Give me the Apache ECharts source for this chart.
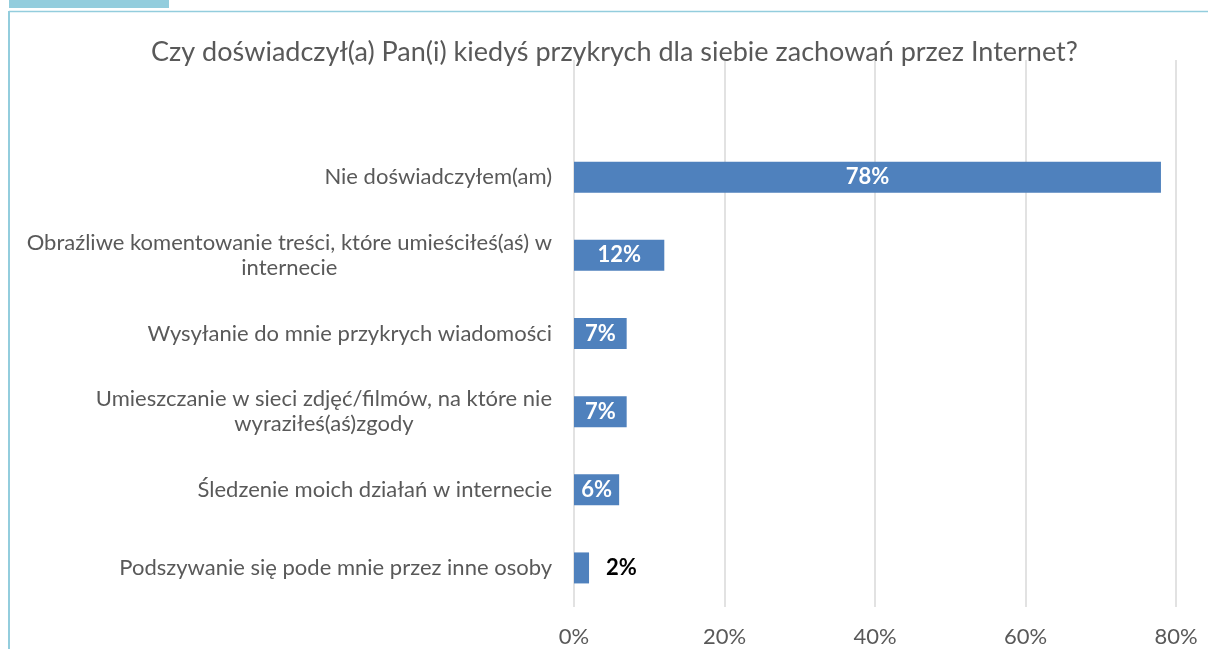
<!DOCTYPE html>
<html>
<head>
<meta charset="utf-8">
<script src="https://cdn.jsdelivr.net/npm/echarts@6/dist/echarts.min.js"></script>
<style>
  html, body { margin: 0; padding: 0; background: #fff; }
  #chart { width: 1208px; height: 649px; }
</style>
</head>
<body>
<div id="chart"></div>
<script>
  // dane z wykresu (pierwsza kategoria pusta, jak w oryginale)
  var categories = [
    '',
    'Nie doświadczyłem(am)',
    'Obraźliwe komentowanie treści, które umieściłeś(aś) w\ninternecie',
    'Wysyłanie do mnie przykrych wiadomości',
    'Umieszczanie w sieci zdjęć/filmów, na które nie\nwyraziłeś(aś)zgody',
    'Śledzenie moich działań w internecie',
    'Podszywanie się pode mnie przez inne osoby'
  ];
  var values = ['-', 78, 12, 7, 7, 6, 2];
  var xTicks = [0, 20, 40, 60, 80];

  var font = 'Lato, "Open Sans", sans-serif';
  var grey = '#595959';

  var seriesData = values.map(function (v, i) {
    if (v === '-') return '-';
    var d = { value: v };
    if (v < 5) {
      d.label = { position: 'right', color: '#000', distance: 17 };
    }
    return d;
  });

  var myChart = echarts.init(document.getElementById('chart'));
  var option = {
    animation: false,
    textStyle: { fontFamily: font },
    title: {
      text: 'Czy doświadczył(a) Pan(i) kiedyś przykrych dla siebie zachowań przez Internet?',
      left: 146,
      top: 34,
      textStyle: { fontFamily: font, fontSize: 27, fontWeight: 'normal', color: grey }
    },
    graphic: [
      { type: 'rect', shape: { x: 9, y: 0, width: 160, height: 8 }, style: { fill: '#93CDDD' } },
      { type: 'line', shape: { x1: 9, y1: 11.5, x2: 1208, y2: 11.5 }, style: { stroke: '#93CDDD', lineWidth: 1.5 } },
      { type: 'line', shape: { x1: 9, y1: 11, x2: 9, y2: 649 }, style: { stroke: '#93CDDD', lineWidth: 2 } }
    ],
    grid: { left: 574, right: 32, top: 60, bottom: 42, containLabel: false },
    xAxis: {
      type: 'value',
      min: xTicks[0],
      max: xTicks[xTicks.length - 1],
      interval: 20,
      axisLine: { show: false },
      axisTick: { show: false },
      splitLine: { lineStyle: { color: '#d9d9d9', width: 1.5 } },
      axisLabel: {
        formatter: '{value}%',
        margin: 19,
        fontFamily: font,
        fontSize: 22,
        color: grey
      }
    },
    yAxis: {
      type: 'category',
      inverse: true,
      data: categories,
      axisLine: { show: false },
      axisTick: { show: false },
      axisLabel: {
        margin: 22,
        fontFamily: font,
        fontSize: 22,
        color: grey,
        formatter: function (v) {
          return v.split('\n').map(function (l) { return '{c|' + l + '}'; }).join('\n');
        },
        rich: {
          c: { align: 'center', fontFamily: font, fontSize: 22, color: grey, lineHeight: 25 }
        }
      }
    },
    series: [{
      type: 'bar',
      data: seriesData,
      barWidth: 31,
      itemStyle: { color: '#4F81BD' },
      label: {
        show: true,
        position: 'inside',
        formatter: '{c}%',
        fontFamily: font,
        fontSize: 22,
        fontWeight: 'bold',
        color: '#fff'
      }
    }]
  };
  myChart.setOption(option);
</script>
</body>
</html>
